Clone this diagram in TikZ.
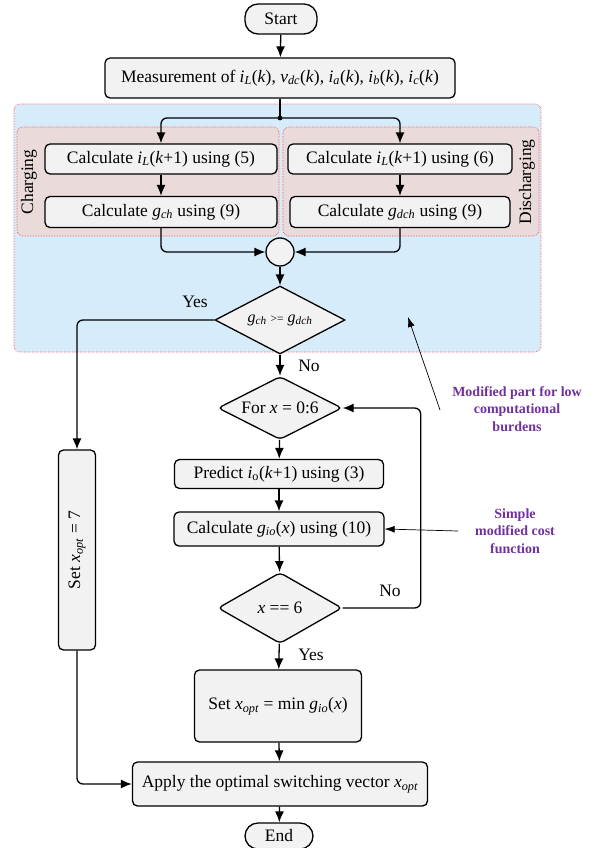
\documentclass[tikz,border=0pt]{standalone}
\usepackage{fontspec}
\setmainfont{Liberation Serif}
\usetikzlibrary{shapes.geometric, arrows.meta, positioning, calc}
\newcommand{\sv}[2]{\textit{#1}\textsubscript{\textit{#2}}}
\definecolor{boxgray}{RGB}{242,242,242}
\definecolor{zoneblue}{RGB}{214,236,250}
\definecolor{zonepink}{RGB}{234,218,218}
\definecolor{notepurple}{RGB}{112,48,160}
\tikzset{
  proc/.style={draw, line width=1.3pt, rounded corners=5pt, fill=boxgray, inner sep=0pt},
  term/.style={draw, line width=1.3pt, rounded corners=13pt, fill=boxgray, inner sep=0pt},
  decide/.style={draw, line width=1.3pt, diamond, aspect=2, fill=boxgray, inner sep=0pt},
  zone/.style={draw=red!75, densely dotted, line width=0.6pt, rounded corners=6pt},
  arr/.style={-{Latex[length=11pt,width=9pt]}, line width=1.3pt, rounded corners=6pt},
  link/.style={line width=1.3pt, rounded corners=6pt},
  thinarr/.style={-{Latex[length=10pt,width=7pt]}, line width=0.7pt},
  note/.style={text=notepurple, font=\fontsize{14}{17.5}\selectfont\bfseries, align=center},
  lbl/.style={font=\fontsize{17.5}{20}\selectfont}
}
\begin{document}
\begin{tikzpicture}[x=1pt, y=-1pt, font=\fontsize{17.5}{20}\selectfont]
\useasboundingbox (0,0) rectangle (601,848);
% zones
\fill[zoneblue, rounded corners=6pt] (14,104) rectangle (541,352);
\draw[zone] (14,104) rectangle (541,352);
\filldraw[zone, fill=zonepink] (17,127) rectangle (279,236);
\filldraw[zone, fill=zonepink] (283,127) rectangle (539,236);
\node[rotate=90] (chg) at (29,182) {Charging};
\node[rotate=90] (dchg) at (527,182) {Discharging};
% main flow
\node[term, minimum width=72, minimum height=30] (start) at (281,19) {Start};
\node[proc, minimum width=350, minimum height=40] (meas) at (280,78)
  {Measurement of \sv{i}{L}(\textit{k}), \sv{v}{dc}(\textit{k}), \sv{i}{a}(\textit{k}), \sv{i}{b}(\textit{k}), \sv{i}{c}(\textit{k})};
\coordinate (split) at (280,118);
\node[proc, minimum width=232, minimum height=30] (c1) at (161,159) {Calculate \sv{i}{L}(\textit{k}+1) using (5)};
\node[proc, minimum width=232, minimum height=31] (g1) at (161,212) {Calculate \sv{g}{ch} using (9)};
\node[proc, minimum width=224, minimum height=30] (c2) at (400,159) {Calculate \sv{i}{L}(\textit{k}+1) using (6)};
\node[proc, minimum width=220, minimum height=31] (g2) at (400,212) {Calculate \sv{g}{dch} using (9)};
\node[draw, circle, line width=1.3pt, fill=boxgray, minimum size=28, inner sep=0pt] (join) at (280,252) {};
\node[decide, minimum width=130, minimum height=68, font=\fontsize{16}{18}\selectfont] (d1) at (280,320)
  {\sv{g}{ch} {\fontsize{11.5}{12}\selectfont>=} \sv{g}{dch}};
\node[decide, rounded corners=4pt, minimum width=124, minimum height=63] (dfor) at (280,408) {For \textit{x} = 0:6};
\node[proc, minimum width=209, minimum height=29] (pred) at (279,474) {Predict \textit{i}\textsubscript{o}(\textit{k}+1) using (3)};
\node[proc, minimum width=210, minimum height=34] (calc) at (279,529) {Calculate \sv{g}{io}(\textit{x}) using (10)};
\node[decide, rounded corners=4pt, minimum width=124, minimum height=71] (deq) at (280,608) {\textit{x} == 6};
\node[proc, minimum width=167, minimum height=72] (setmin) at (278,706) {Set \sv{x}{opt} = min \sv{g}{io}(\textit{x})};
\node[proc, minimum width=295, minimum height=44] (apply) at (280,784) {Apply the optimal switching vector \sv{x}{opt}};
\node[term, minimum width=68, minimum height=26] (end) at (279,836) {End};
\node[proc, rotate=90, minimum width=200, minimum height=37] (setseven) at (77,550) {Set \sv{x}{opt} = 7};
% connectors
\draw[arr] (start) -- (meas);
\draw[link] (meas) -- (split);
\fill (split) circle (2.4pt);
\draw[arr] (split) -| (c1.north);
\draw[arr] (split) -| (c2.north);
\draw[arr] (c1) -- (g1);
\draw[arr] (c2) -- (g2);
\draw[arr] (g1.south) |- (join.west);
\draw[arr] (g2.south) |- (join.east);
\draw[arr] (join) -- (d1);
\draw[arr] (d1.west) -| (setseven.east);
\draw[arr] (d1) -- (dfor);
\draw[arr] (dfor) -- (pred);
\draw[arr] (pred) -- (calc);
\draw[arr] (calc) -- (deq);
\draw[arr] (deq.east) -- ++(78,0) |- (dfor.east);
\draw[arr] (deq) -- (setmin);
\draw[arr] (setmin) -- (apply);
\draw[arr] (setseven.west) |- (apply.west);
\draw[arr] (apply) -- (end);
% labels
\node[lbl] (yes1) at (195,302) {Yes};
\node[lbl] (no1) at (309,366) {No};
\node[lbl] (no2) at (390,591) {No};
\node[lbl] (yes2) at (311,655) {Yes};
% notes
\node[note] (modnote) at (517,409) {Modified part for low\\computational\\burdens};
\coordinate (modfoot) at (440,410);
\coordinate (modtip) at (408,317);
\draw[thinarr] (modfoot) -- (modtip);
\node[note] (costnote) at (515,531) {Simple\\modified cost\\function};
\coordinate (costfoot) at (458,531);
\draw[thinarr] (costfoot) -- (calc.east);
\end{tikzpicture}
\end{document}
